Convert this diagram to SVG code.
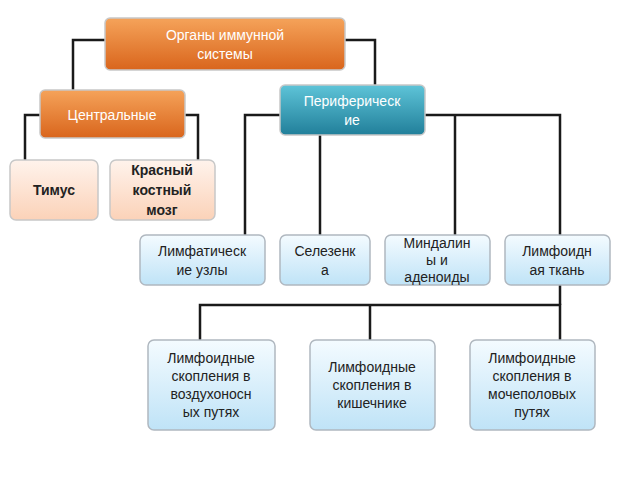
<svg xmlns="http://www.w3.org/2000/svg" width="640" height="480" viewBox="0 0 640 480">
<style>
text{font-family:"Liberation Sans",Arial,sans-serif;font-size:14px;text-anchor:middle}
.w{fill:#fff}
.d{fill:#222}
.c{stroke:#1a1a1a;stroke-width:2.5;fill:none}
.or{fill:url(#go);stroke:#c8c8c8;stroke-width:1.5}
.te{fill:url(#gt);stroke:#c8c8c8;stroke-width:1.5}
.pe{fill:url(#gp);stroke:#c8c8c8;stroke-width:1.5}
.bl{fill:url(#gb);stroke:#b0b8c0;stroke-width:1.5}
</style>
<defs>
<linearGradient id="go" x1="0" y1="0" x2="0" y2="1"><stop offset="0" stop-color="#f5a35a"/><stop offset="1" stop-color="#d9651c"/></linearGradient>
<linearGradient id="gt" x1="0" y1="0" x2="0" y2="1"><stop offset="0" stop-color="#5ec4d8"/><stop offset="1" stop-color="#217f9a"/></linearGradient>
<linearGradient id="gp" x1="0" y1="0" x2="0" y2="1"><stop offset="0" stop-color="#fff3ec"/><stop offset="1" stop-color="#fbd2b8"/></linearGradient>
<linearGradient id="gb" x1="0" y1="0" x2="0" y2="1"><stop offset="0" stop-color="#f4fbff"/><stop offset="1" stop-color="#bfe3f7"/></linearGradient>
</defs>
<g id="connectors">
<polyline class="c" points="105,40 73,40 73,90"/>
<polyline class="c" points="345,40 375,40 375,85"/>
<polyline class="c" points="40,115 25,115 25,160"/>
<polyline class="c" points="185,115 198,115 198,160"/>
<polyline class="c" points="280,115 245,115 245,235"/>
<polyline class="c" points="425,115 560,115 560,235"/>
<line class="c" x1="320" y1="135" x2="320" y2="235"/>
<line class="c" x1="455" y1="115" x2="455" y2="235"/>
<polyline class="c" points="560,285 560,305"/>
<polyline class="c" points="200,340 200,305 560,305 560,340"/>
<line class="c" x1="370" y1="305" x2="370" y2="340"/>
</g>
<g id="root"><rect class="or" x="105" y="18" width="240" height="52" rx="5"/><text class="w" x="225" y="40">Органы иммунной</text><text class="w" x="225" y="59">системы</text></g>
<g id="central"><rect class="or" x="40" y="90" width="145" height="48" rx="5"/><text class="w" x="112" y="120">Центральные</text></g>
<g id="peripheral"><rect class="te" x="280" y="85" width="145" height="50" rx="5"/><text class="w" x="352" y="106">Периферическ</text><text class="w" x="352" y="125">ие</text></g>
<g id="thymus"><rect class="pe" x="10" y="160" width="88" height="60" rx="6"/><text class="d" x="54" y="195" font-weight="bold">Тимус</text></g>
<g id="marrow"><rect class="pe" x="110" y="160" width="105" height="60" rx="6"/><text class="d" x="162" y="175" font-weight="bold">Красный</text><text class="d" x="162" y="195" font-weight="bold">костный</text><text class="d" x="162" y="215" font-weight="bold">мозг</text></g>
<g id="lymphnodes"><rect class="bl" x="140" y="235" width="125" height="50" rx="6"/><text class="d" x="202" y="256">Лимфатическ</text><text class="d" x="202" y="275">ие узлы</text></g>
<g id="spleen"><rect class="bl" x="280" y="235" width="90" height="50" rx="6"/><text class="d" x="325" y="256">Селезенк</text><text class="d" x="325" y="275">а</text></g>
<g id="tonsils"><rect class="bl" x="385" y="235" width="105" height="50" rx="6"/><text class="d" x="437" y="248">Миндалин</text><text class="d" x="437" y="265">ы и</text><text class="d" x="437" y="282">аденоиды</text></g>
<g id="lymphtissue"><rect class="bl" x="505" y="235" width="105" height="50" rx="6"/><text class="d" x="557" y="256">Лимфоидн</text><text class="d" x="557" y="275">ая ткань</text></g>
<g id="airways"><rect class="bl" x="148" y="340" width="127" height="90" rx="6"/><text class="d" x="211" y="363">Лимфоидные</text><text class="d" x="211" y="381">скопления в</text><text class="d" x="211" y="399">воздухоносн</text><text class="d" x="211" y="417">ых путях</text></g>
<g id="intestine"><rect class="bl" x="310" y="340" width="125" height="90" rx="6"/><text class="d" x="372" y="372">Лимфоидные</text><text class="d" x="372" y="390">скопления в</text><text class="d" x="372" y="408">кишечнике</text></g>
<g id="urogenital"><rect class="bl" x="470" y="340" width="125" height="90" rx="6"/><text class="d" x="532" y="363">Лимфоидные</text><text class="d" x="532" y="381">скопления в</text><text class="d" x="532" y="399">мочеполовых</text><text class="d" x="532" y="417">путях</text></g>
</svg>
